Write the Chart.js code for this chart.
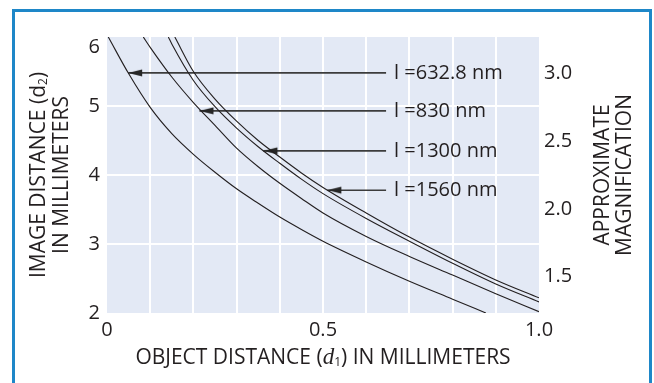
<!DOCTYPE html>
<html>
<head>
<meta charset="utf-8">
<script src="https://cdn.jsdelivr.net/npm/chart.js@4/dist/chart.umd.min.js"></script>
<style>
  html, body { margin: 0; padding: 0; background: #fff; overflow: hidden; }
  #frame { position: absolute; left: 12px; top: 9px; width: 634px; height: 400px; border: 3px solid #1e87c8; }
  #wrap { position: absolute; left: 0; top: 0; width: 654px; height: 383px; }
</style>
</head>
<body>
<div id="frame"></div>
<div id="wrap"><canvas id="chart"></canvas></div>
<script>
// curves: object distance d1 (mm) -> image distance d2 (mm)
const objectDist632 = [0.003, 0.05, 0.1, 0.15, 0.2, 0.25, 0.3, 0.35, 0.4, 0.45, 0.5, 0.6, 0.7, 0.8, 0.877];
const imageDist632  = [6.0, 5.47, 4.98, 4.60, 4.30, 4.04, 3.80, 3.59, 3.39, 3.21, 3.04, 2.74, 2.46, 2.20, 2.0];

const objectDist830 = [0.084, 0.1, 0.15, 0.2, 0.25, 0.3, 0.35, 0.4, 0.45, 0.5, 0.6, 0.7, 0.8, 0.9, 1.0];
const imageDist830  = [6.0, 5.85, 5.42, 5.05, 4.72, 4.39, 4.12, 3.88, 3.66, 3.45, 3.11, 2.82, 2.55, 2.28, 2.02];

const objectDist1300 = [0.142, 0.15, 0.2, 0.25, 0.3, 0.35, 0.4, 0.45, 0.5, 0.6, 0.7, 0.8, 0.9, 1.0];
const imageDist1300  = [6.0, 5.90, 5.37, 4.99, 4.68, 4.41, 4.17, 3.94, 3.73, 3.37, 3.04, 2.72, 2.42, 2.16];

const objectDist1560 = [0.157, 0.2, 0.25, 0.3, 0.35, 0.4, 0.45, 0.5, 0.6, 0.7, 0.8, 0.9, 1.0];
const imageDist1560  = [6.0, 5.50, 5.10, 4.78, 4.50, 4.26, 4.03, 3.82, 3.45, 3.10, 2.78, 2.48, 2.22];

// callout arrows (data units)
const arrowLabels = ['l =632.8 nm', 'l =830 nm', 'l =1300 nm', 'l =1560 nm'];
const arrowTipDist = [0.049, 0.214, 0.362, 0.51];
const arrowImageDist = [5.48, 4.93, 4.35, 3.78];
const arrowTailDist = 0.646;

// axes
const xGridTicks = [0, 0.1, 0.2, 0.3, 0.4, 0.5, 0.6, 0.7, 0.8, 0.9, 1.0];
const xTickLabels = [0, 0.5, 1.0];
const yTicks = [2, 3, 4, 5, 6];
const magTicks = [1.5, 2.0, 2.5, 3.0];

const ink = '#231f20';
const fontFamily = "'Open Sans', sans-serif";
const toPoints = (xs, ys) => xs.map((x, i) => ({ x: x, y: ys[i] }));

// arrowhead pointing left, tip at the canvas centre
const arrowHead = document.createElement('canvas');
arrowHead.width = 32;
arrowHead.height = 10;
const ah = arrowHead.getContext('2d');
ah.fillStyle = '#262626';
ah.beginPath();
ah.moveTo(16, 5);
ah.lineTo(30, 1.4);
ah.lineTo(30, 8.6);
ah.closePath();
ah.fill();

function curve(xs, ys) {
    return {
        type: 'line',
        data: toPoints(xs, ys),
        borderColor: ink,
        borderWidth: 1.1,
        pointRadius: 0,
        cubicInterpolationMode: 'monotone',
        fill: false,
        yAxisID: 'y'
    };
}

const arrowSets = arrowLabels.map((label, i) => ({
    type: 'line',
    label: label,
    isArrow: true,
    data: [{ x: arrowTipDist[i], y: arrowImageDist[i] }, { x: arrowTailDist, y: arrowImageDist[i] }],
    borderColor: '#3c3c3c',
    borderWidth: 1.6,
    pointStyle: arrowHead,
    pointRadius: [4, 0],
    fill: false,
    yAxisID: 'y'
}));

const edgeClear = (lo, hi) => ctx => (ctx.tick && (ctx.tick.value === lo || ctx.tick.value === hi)) ? 'rgba(0,0,0,0)' : '#ffffff';

// draws a row of text pieces centred on (0,0)
function richText(ctx, parts) {
    let total = 0;
    parts.forEach(p => { ctx.font = p.font; p.w = ctx.measureText(p.text).width; total += p.w; });
    let x = -total / 2;
    parts.forEach(p => {
        ctx.font = p.font;
        ctx.fillText(p.text, x, p.dy || 0);
        x += p.w;
    });
}

const decorPlugin = {
    id: 'decor',
    beforeDraw(chart) {
        const a = chart.chartArea, ctx = chart.ctx;
        ctx.save();
        ctx.fillStyle = '#e3e9f5';
        ctx.fillRect(a.left, a.top, a.right - a.left, a.bottom - a.top);
        ctx.restore();
    },
    afterDatasetsDraw(chart) {
        const ctx = chart.ctx;
        ctx.save();
        ctx.fillStyle = ink;
        ctx.font = '20px ' + fontFamily;
        ctx.textBaseline = 'middle';
        ctx.textAlign = 'left';
        chart.data.datasets.forEach((ds, i) => {
            if (!ds.isArrow) return;
            const end = chart.getDatasetMeta(i).data[1];
            ctx.fillText(ds.label, end.x + 8, end.y);
        });
        ctx.restore();
    },
    afterDraw(chart) {
        const a = chart.chartArea, ctx = chart.ctx;
        const midY = (a.top + a.bottom) / 2;
        const sans = '21px ' + fontFamily;
        ctx.save();
        ctx.fillStyle = ink;
        ctx.textBaseline = 'middle';
        ctx.textAlign = 'left';

        // left title
        ctx.save();
        ctx.translate(a.left - 68, midY);
        ctx.rotate(-Math.PI / 2);
        richText(ctx, [
            { text: 'IMAGE DISTANCE (d', font: sans },
            { text: '2', font: '12px ' + fontFamily, dy: 5 },
            { text: ')', font: sans }
        ]);
        ctx.restore();
        ctx.save();
        ctx.translate(a.left - 45, midY);
        ctx.rotate(-Math.PI / 2);
        richText(ctx, [{ text: 'IN MILLIMETERS', font: sans }]);
        ctx.restore();

        // right title
        ctx.save();
        ctx.translate(a.right + 64, midY);
        ctx.rotate(-Math.PI / 2);
        richText(ctx, [{ text: 'APPROXIMATE', font: sans }]);
        ctx.restore();
        ctx.save();
        ctx.translate(a.right + 86, midY);
        ctx.rotate(-Math.PI / 2);
        richText(ctx, [{ text: 'MAGNIFICATION', font: sans }]);
        ctx.restore();

        // bottom title
        ctx.save();
        ctx.translate((a.left + a.right) / 2, a.bottom + 45);
        richText(ctx, [
            { text: 'OBJECT DISTANCE (', font: sans },
            { text: 'd', font: 'italic 23px "Liberation Serif", serif' },
            { text: '1', font: '12px ' + fontFamily, dy: 5 },
            { text: ') IN MILLIMETERS', font: sans }
        ]);
        ctx.restore();
        ctx.restore();
    }
};

const tickFont = { family: fontFamily, size: 20 };

new Chart(document.getElementById('chart').getContext('2d'), {
    type: 'line',
    data: {
        datasets: [
            curve(objectDist632, imageDist632),
            curve(objectDist830, imageDist830),
            curve(objectDist1300, imageDist1300),
            curve(objectDist1560, imageDist1560)
        ].concat(arrowSets)
    },
    options: {
        responsive: true,
        maintainAspectRatio: false,
        animation: false,
        events: [],
        layout: { padding: { top: 37, left: 0, right: 0, bottom: 0 } },
        plugins: {
            legend: { display: false },
            tooltip: { enabled: false }
        },
        scales: {
            x: {
                type: 'linear',
                min: 0,
                max: 1,
                afterBuildTicks: s => { s.ticks = xGridTicks.map(v => ({ value: v })); },
                afterFit: s => { s.height = 70; },
                border: { display: false },
                grid: { color: edgeClear(0, 1), lineWidth: 2, drawTicks: false },
                ticks: {
                    autoSkip: false,
                    maxRotation: 0,
                    padding: 5,
                    color: ink,
                    font: tickFont,
                    callback: v => xTickLabels.includes(v) ? (v === 0 ? '0' : v.toFixed(1)) : ''
                }
            },
            y: {
                type: 'linear',
                position: 'left',
                min: 2,
                max: 6,
                afterBuildTicks: s => { s.ticks = yTicks.map(v => ({ value: v })); },
                afterFit: s => { s.width = 107; },
                border: { display: false },
                grid: { color: edgeClear(2, 6), lineWidth: 2, drawTicks: false },
                ticks: {
                    padding: 7,
                    color: ink,
                    font: Object.assign({ lineHeight: 1.0 }, tickFont),
                    callback: v => v === 6 ? ['', '6'] : String(v)
                }
            },
            y2: {
                type: 'linear',
                position: 'right',
                min: 1.231,
                max: 3.268,
                afterBuildTicks: s => { s.ticks = magTicks.map(v => ({ value: v })); },
                afterFit: s => { s.width = 115; },
                border: { display: false },
                grid: { display: false, drawTicks: false },
                ticks: {
                    padding: 5,
                    color: ink,
                    font: tickFont,
                    callback: v => v.toFixed(1)
                }
            }
        }
    },
    plugins: [decorPlugin]
});
</script>
</body>
</html>
